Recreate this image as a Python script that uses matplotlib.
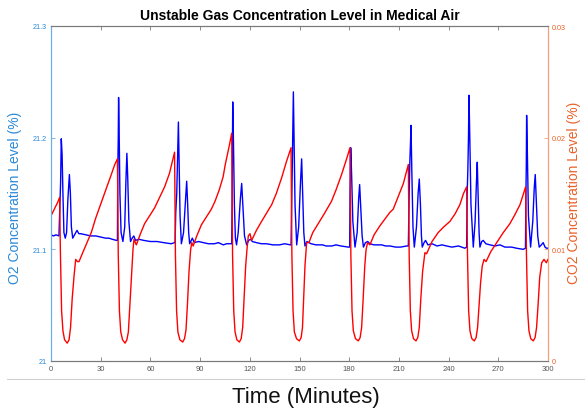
import matplotlib
matplotlib.use("Agg")
import matplotlib.pyplot as plt
from matplotlib.lines import Line2D

plt.rcParams['font.family'] = ['Liberation Sans', 'DejaVu Sans']

# ---------------- data ----------------
title = "Unstable Gas Concentration Level in Medical Air"
x_label = "Time (Minutes)"
o2_label = "O2 Concentration Level (%)"
co2_label = "CO2 Concentration Level (%)"

x_ticks = [0, 30, 60, 90, 120, 150, 180, 210, 240, 270, 300]
o2_ticks = [21.0, 21.1, 21.2, 21.3]
o2_tick_labels = ["21", "21.1", "21.2", "21.3"]
co2_ticks = [0.0, 0.01, 0.02, 0.03]
co2_tick_labels = ["0", "0.01", "0.02", "0.03"]

co2_time = [
    0, 2, 4, 5.2,
    5.7, 6.4, 7.2, 8.2, 9.8, 10.9, 11.8, 12.8, 13.9, 14.9, 16.0, 16.9,
    20, 24.3, 27, 30.4, 33.5, 36.4, 38.5, 40.1,
    40.6, 41.3, 42.1, 43.2, 44.7, 45.8, 46.7, 47.6, 48.3, 49.5, 50.1, 51.5,
    54, 56.5, 62.5, 66, 68.6, 71.5, 74.6,
    75.1, 75.8, 76.6, 77.8, 79.5, 80.6, 81.5, 82.4, 83.3, 84.3, 85.0, 85.8,
    88, 90.8, 96.8, 99, 101.5, 103.9, 105.2, 107.5, 109.1,
    109.6, 110.3, 111.1, 112.2, 113.7, 114.8, 115.7, 116.6, 117.5, 118.3, 119.1, 120.1, 121.1,
    124, 127.1, 133.2, 136, 139.2, 142, 144.9,
    145.4, 146.1, 146.9, 148.2, 149.9, 151.0, 151.8, 152.5, 153.3, 154.3, 155.7,
    158, 161.3, 165, 169.3, 172, 175.4, 178, 180.5,
    181.0, 181.7, 182.5, 183.8, 185.5, 186.6, 187.5, 188.4, 189.4, 190.2, 191.1, 192.5,
    195, 198.5, 204.5, 206.6, 209.5, 212.7, 215.7,
    216.2, 216.9, 217.7, 218.8, 220.3, 221.4, 222.3, 223.2, 224.3, 225.7, 226.7,
    230, 233.7, 237, 240.8, 244, 246.8, 249, 250.9,
    251.4, 252.1, 252.9, 254.0, 255.5, 256.6, 257.5, 258.4, 259.3, 260.3, 261.4, 262.6,
    265.5, 269, 273, 277, 280, 283.1, 286.5,
    287.0, 287.7, 288.5, 289.6, 291.1, 292.2, 293.1, 294.0, 295.0, 296.2, 297.6, 299.0, 300,
]
co2_value = [
    0.0130, 0.0136, 0.0142, 0.01465,
    0.0095, 0.0045, 0.0027, 0.0019, 0.0016, 0.0019, 0.0030, 0.0056, 0.0076, 0.0091, 0.0089, 0.0089,
    0.0100, 0.0115, 0.0128, 0.0142, 0.0155, 0.0167, 0.0176, 0.0181,
    0.0095, 0.0045, 0.0026, 0.0019, 0.0016, 0.0019, 0.0026, 0.0050, 0.0070, 0.0100, 0.0109, 0.0104,
    0.0114, 0.0123, 0.0137, 0.0148, 0.0156, 0.0168, 0.0187,
    0.0095, 0.0045, 0.0026, 0.0019, 0.0017, 0.0020, 0.0028, 0.0052, 0.0080, 0.0100, 0.0106, 0.0103,
    0.0112, 0.0122, 0.0136, 0.0143, 0.0153, 0.0165, 0.0176, 0.0192, 0.0204,
    0.0095, 0.0045, 0.0026, 0.0019, 0.0017, 0.0020, 0.0030, 0.0058, 0.0085, 0.0100, 0.0112, 0.0114, 0.0108,
    0.0117, 0.0125, 0.0140, 0.0150, 0.0164, 0.0178, 0.0191,
    0.0095, 0.0045, 0.0026, 0.0020, 0.0018, 0.0021, 0.0030, 0.0055, 0.0085, 0.0106, 0.0106,
    0.0115, 0.0123, 0.0132, 0.0143, 0.0153, 0.0167, 0.0179, 0.0191,
    0.0095, 0.0045, 0.0027, 0.0020, 0.0018, 0.0021, 0.0030, 0.0055, 0.0085, 0.0100, 0.0106, 0.0104,
    0.0113, 0.0121, 0.0133, 0.0136, 0.0147, 0.0159, 0.0176,
    0.0095, 0.0045, 0.0027, 0.0020, 0.0018, 0.0021, 0.0030, 0.0055, 0.0080, 0.0097, 0.0096,
    0.0107, 0.0115, 0.0120, 0.0125, 0.0132, 0.0140, 0.0150, 0.0156,
    0.0095, 0.0045, 0.0027, 0.0020, 0.0018, 0.0021, 0.0030, 0.0050, 0.0070, 0.0085, 0.0091, 0.0089,
    0.0098, 0.0106, 0.0115, 0.0123, 0.0131, 0.0140, 0.0156,
    0.0095, 0.0045, 0.0027, 0.0020, 0.0018, 0.0021, 0.0030, 0.0050, 0.0075, 0.0088, 0.0091, 0.0088, 0.0091,
]

o2_time = [
    0, 1.5, 3, 4.8, 5.3, 5.8, 6.2, 6.7, 7.2, 7.8, 8.6, 9.4, 10.2, 11.1, 11.7, 12.3, 13.1, 14.2, 15.7, 16.8,
    18, 21, 24, 27, 30, 33, 35, 37, 39.5,
    40.1, 40.3, 40.6, 40.8, 41.1, 41.6, 42.3, 43.4, 44.5, 45.2, 45.8, 46.3, 47, 48, 49, 50, 51,
    53, 56, 60, 64, 68, 72.5, 74.6,
    74.9, 75.3, 75.9, 76.5, 76.9, 77.3, 77.9, 78.7, 80, 81.2, 81.9, 82.5, 83.1, 83.7, 85.3, 86.5,
    89, 92, 95, 98.7, 101, 104, 106, 108.8,
    109.1, 109.3, 109.5, 109.7, 110.1, 110.7, 111.3, 112, 113, 114.3, 115.1, 115.8, 116.8, 118.1, 119.3, 120.5, 121.5,
    124, 127, 130, 134, 138, 141, 144.5,
    144.9, 145.2, 145.7, 146.3, 146.7, 147.3, 148.3, 149.5, 150.6, 151.3, 151.9, 152.6, 153.3, 154.5, 155.7,
    157, 160, 164, 166, 169.5, 172, 175, 179.5,
    180.3, 180.5, 180.9, 181.4, 182.2, 183.5, 184.8, 185.7, 186.3, 186.9, 187.8, 188.6, 189.8, 191.2, 192.5,
    195, 199.6, 202, 204.7, 208, 211, 214.7,
    215.7, 216.2, 216.6, 217.0, 217.3, 217.8, 218.5, 219.3, 220.6, 221.6, 222.3, 223, 223.6, 224.1, 225.2, 226.1, 227.5,
    230, 233, 236, 238.8, 242, 246, 249.8,
    250.9, 251.2, 251.6, 252.0, 252.3, 252.8, 253.5, 254.9, 256, 256.8, 257.3, 257.8, 258.4, 258.9, 260, 260.9, 262.5,
    265, 268, 271, 274, 278, 281, 285, 286.4,
    286.6, 286.9, 287.1, 287.5, 288.2, 289.5, 290.8, 291.7, 292.3, 292.9, 293.8, 294.7, 296, 297.1, 298.2, 299.1, 300,
]
o2_value = [
    21.113, 21.112, 21.113, 21.112, 21.135, 21.160, 21.199, 21.185, 21.150, 21.115, 21.110, 21.115, 21.145, 21.167, 21.150, 21.120, 21.110, 21.113, 21.117, 21.114,
    21.114, 21.113, 21.112, 21.112, 21.111, 21.110, 21.110, 21.109, 21.108,
    21.108, 21.170, 21.200, 21.236, 21.210, 21.150, 21.115, 21.107, 21.120, 21.160, 21.186, 21.165, 21.125, 21.107, 21.110, 21.112, 21.108,
    21.109, 21.108, 21.107, 21.107, 21.106, 21.105, 21.106,
    21.106, 21.133, 21.150, 21.190, 21.214, 21.180, 21.130, 21.105, 21.115, 21.145, 21.161, 21.140, 21.115, 21.105, 21.110, 21.106,
    21.107, 21.106, 21.105, 21.105, 21.106, 21.104, 21.105, 21.105,
    21.105, 21.140, 21.190, 21.232, 21.200, 21.140, 21.110, 21.104, 21.115, 21.145, 21.159, 21.140, 21.112, 21.104, 21.108, 21.109, 21.107,
    21.106, 21.105, 21.105, 21.104, 21.104, 21.105, 21.104,
    21.104, 21.135, 21.180, 21.241, 21.200, 21.140, 21.104, 21.120, 21.160, 21.181, 21.150, 21.115, 21.103, 21.107, 21.106,
    21.105, 21.104, 21.104, 21.103, 21.103, 21.104, 21.103, 21.102,
    21.102, 21.150, 21.191, 21.170, 21.125, 21.102, 21.115, 21.145, 21.158, 21.140, 21.112, 21.102, 21.106, 21.107, 21.105,
    21.104, 21.104, 21.103, 21.103, 21.102, 21.102, 21.103,
    21.103, 21.150, 21.178, 21.195, 21.211, 21.170, 21.120, 21.102, 21.120, 21.150, 21.163, 21.140, 21.112, 21.102, 21.106, 21.108, 21.104,
    21.105, 21.103, 21.104, 21.103, 21.102, 21.103, 21.101,
    21.102, 21.150, 21.170, 21.200, 21.238, 21.200, 21.140, 21.102, 21.125, 21.160, 21.178, 21.150, 21.115, 21.102, 21.107, 21.108, 21.105,
    21.104, 21.103, 21.104, 21.102, 21.102, 21.101, 21.100, 21.101,
    21.140, 21.175, 21.220, 21.190, 21.130, 21.102, 21.125, 21.155, 21.167, 21.145, 21.112, 21.102, 21.104, 21.106, 21.102, 21.101, 21.101,
]

# ---------------- styles ----------------
o2_color = "#0000ff"
co2_color = "#ff0000"
left_axis_color = "#6aaee6"
left_text_color = "#2a88d8"
right_axis_color = "#f4a07a"
right_text_color = "#e8622a"
frame_gray = "#7a7a7a"

fig = plt.figure(figsize=(5.85, 4.10), dpi=100)
ax = fig.add_axes([51/585, 1 - 362/410, 497/585, 335/410])
ax2 = ax.twinx()

ax.plot(o2_time, o2_value, color=o2_color, lw=1.0)
ax2.plot(co2_time, co2_value, color=co2_color, lw=1.0)

ax.set_xlim(0, 300)
ax.set_ylim(21.0, 21.3)
ax2.set_ylim(0, 0.03)

ax.set_xticks(x_ticks)
ax.set_xticklabels([str(t) for t in x_ticks], fontsize=5.5, color="#555555")
ax.set_yticks(o2_ticks)
ax.set_yticklabels(o2_tick_labels, fontsize=5.2, color=left_text_color)
ax2.set_yticks(co2_ticks)
ax2.set_yticklabels(co2_tick_labels, fontsize=5.2, color=right_text_color)

ax.tick_params(axis='x', direction='in', top=True, length=3, width=0.6, color=frame_gray, pad=3)
ax.tick_params(axis='y', direction='in', length=3, width=0.6, color=left_axis_color, pad=3)
ax2.tick_params(axis='y', direction='in', length=3, width=0.6, color=right_axis_color, pad=3)
ax2.tick_params(axis='x', top=False, bottom=False)

for a in (ax, ax2):
    a.spines['top'].set_color(frame_gray)
    a.spines['bottom'].set_color(frame_gray)
    a.spines['top'].set_linewidth(0.8)
    a.spines['bottom'].set_linewidth(0.8)
    a.spines['left'].set_color(left_axis_color)
    a.spines['right'].set_color(right_axis_color)
    a.spines['left'].set_linewidth(0.8)
    a.spines['right'].set_linewidth(0.8)

ax.set_ylabel(o2_label, fontsize=10, color=left_text_color)
ax.yaxis.set_label_coords(-0.058, 0.49)
ax2.set_ylabel(co2_label, fontsize=10, color=right_text_color, rotation=90, va='center')
ax2.yaxis.set_label_coords(1.052, 0.505)

ax.set_title(title, fontsize=10, fontweight='bold', pad=5)

fig.add_artist(Line2D([7/585, 1.0], [1 - 380/410, 1 - 380/410], color="#d0d0d0", lw=0.8))
fig.text(306/585, 1 - 398/410, x_label, fontsize=16, ha='center', va='center', color="#111111")

fig.savefig("out.png", dpi=100)
